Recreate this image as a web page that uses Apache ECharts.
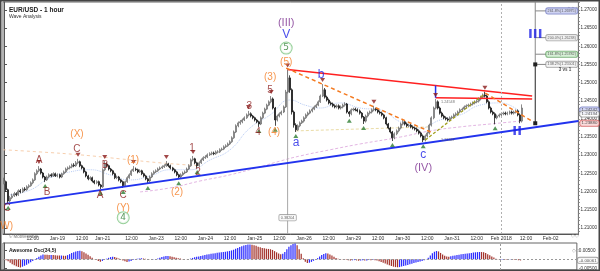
<!DOCTYPE html>
<html><head><meta charset="utf-8">
<script src="https://cdn.jsdelivr.net/npm/echarts@6/dist/echarts.min.js"></script>
<style>html,body{margin:0;padding:0;background:#fff}#c{width:600px;height:271px}</style>
</head><body><div id="c"></div>
<script>
// ---------------- DATA ----------------
const BAR_SLOTS = 280;   // hourly slots on the time axis (incl. empty future area)
const tickLabels = {14:'12:00',26:'Jan-19',38:'12:00',48:'Jan-21',62:'12:00',74:'Jan-23',86:'12:00',98:'Jan-24',110:'12:00',122:'Jan-25',134:'12:00',146:'Jan-26',158:'12:00',170:'Jan-29',182:'12:00',194:'Jan-30',206:'12:00',218:'Jan-31',230:'12:00',242:'Feb 2018',254:'12:00',266:'Feb-02'};
const priceTicks = [1.21,1.215,1.22,1.225,1.23,1.235,1.24,1.245,1.25,1.255,1.26,1.265,1.27];
const firstOpen = 1.2222;
const closes = [1.2227,1.2205,1.2174,1.2183,1.2188,1.2194,1.2191,1.2202,1.2199,1.2207,
1.2205,1.2213,1.2216,1.2224,1.2232,1.2249,1.2257,1.2262,1.2251,1.2240,
1.2232,1.2240,1.2246,1.2243,1.2249,1.2243,1.2246,1.2240,1.2249,1.2254,
1.2262,1.2265,1.2268,1.2273,1.2271,1.2279,1.2282,1.2271,1.2265,1.2254,
1.2243,1.2235,1.2238,1.2229,1.2224,1.2227,1.2218,1.2213,1.2260,1.2276,
1.2271,1.2262,1.2257,1.2249,1.2238,1.2240,1.2232,1.2227,1.2216,1.2227,
1.2238,1.2246,1.2257,1.2262,1.2260,1.2254,1.2257,1.2249,1.2243,1.2235,
1.2229,1.2240,1.2249,1.2254,1.2257,1.2262,1.2265,1.2268,1.2271,1.2276,
1.2271,1.2265,1.2260,1.2254,1.2246,1.2240,1.2246,1.2251,1.2254,1.2262,
1.2271,1.2287,1.2290,1.2279,1.2271,1.2279,1.2287,1.2293,1.2295,1.2301,
1.2304,1.2306,1.2304,1.2309,1.2309,1.2315,1.2317,1.2323,1.2326,1.2331,
1.2337,1.2348,1.2364,1.2381,1.2389,1.2392,1.2397,1.2403,1.2411,1.2414,
1.2408,1.2403,1.2397,1.2392,1.2386,1.2403,1.2416,1.2427,1.2438,1.2447,
1.2455,1.2430,1.2397,1.2408,1.2414,1.2419,1.2433,1.2474,1.2513,1.2480,
1.2419,1.2383,1.2370,1.2381,1.2389,1.2394,1.2403,1.2411,1.2416,1.2422,
1.2427,1.2433,1.2438,1.2447,1.2463,1.2480,1.2460,1.2452,1.2444,1.2441,
1.2436,1.2433,1.2436,1.2430,1.2433,1.2438,1.2441,1.2419,1.2414,1.2425,
1.2427,1.2425,1.2422,1.2416,1.2405,1.2394,1.2408,1.2416,1.2419,1.2425,
1.2427,1.2425,1.2419,1.2416,1.2411,1.2403,1.2386,1.2375,1.2364,1.2348,
1.2359,1.2367,1.2375,1.2386,1.2392,1.2386,1.2381,1.2383,1.2378,1.2375,
1.2372,1.2367,1.2361,1.2353,1.2342,1.2353,1.2361,1.2383,1.2403,1.2430,
1.2447,1.2430,1.2416,1.2408,1.2403,1.2400,1.2397,1.2403,1.2405,1.2411,
1.2414,1.2419,1.2425,1.2427,1.2433,1.2436,1.2438,1.2441,1.2444,1.2447,
1.2449,1.2455,1.2460,1.2466,1.2463,1.2447,1.2430,1.2419,1.2414,1.2403,
1.2408,1.2411,1.2414,1.2416,1.2414,1.2416,1.2419,1.2416,1.2419,1.2422,
1.2411,1.2394,1.2430];
const highs = [1.2238,1.2230,1.2208,1.2188,1.2194,1.2199,1.2198,1.2206,1.2207,1.2211,
1.2212,1.2217,1.2220,1.2228,1.2236,1.2253,1.2261,1.2270,1.2265,1.2254,
1.2243,1.2244,1.2250,1.2250,1.2253,1.2252,1.2250,1.2249,1.2252,1.2258,
1.2266,1.2269,1.2272,1.2277,1.2278,1.2284,1.2290,1.2285,1.2274,1.2268,
1.2257,1.2246,1.2242,1.2241,1.2232,1.2231,1.2230,1.2221,1.2264,1.2284,
1.2280,1.2274,1.2265,1.2260,1.2252,1.2244,1.2243,1.2235,1.2230,1.2230,
1.2242,1.2250,1.2261,1.2270,1.2266,1.2263,1.2261,1.2260,1.2252,1.2246,
1.2238,1.2244,1.2253,1.2258,1.2261,1.2266,1.2269,1.2272,1.2275,1.2284,
1.2279,1.2274,1.2268,1.2263,1.2257,1.2249,1.2250,1.2255,1.2258,1.2266,
1.2275,1.2291,1.2298,1.2293,1.2282,1.2283,1.2291,1.2297,1.2300,1.2305,
1.2308,1.2310,1.2310,1.2313,1.2314,1.2319,1.2321,1.2327,1.2330,1.2335,
1.2341,1.2352,1.2368,1.2385,1.2393,1.2397,1.2401,1.2407,1.2415,1.2422,
1.2418,1.2411,1.2406,1.2400,1.2395,1.2407,1.2420,1.2431,1.2442,1.2451,
1.2463,1.2459,1.2433,1.2412,1.2418,1.2423,1.2437,1.2480,1.2536,1.2520,
1.2484,1.2423,1.2388,1.2385,1.2393,1.2398,1.2407,1.2415,1.2420,1.2426,
1.2431,1.2437,1.2442,1.2451,1.2467,1.2496,1.2485,1.2464,1.2456,1.2448,
1.2445,1.2440,1.2440,1.2440,1.2437,1.2442,1.2446,1.2444,1.2422,1.2429,
1.2431,1.2431,1.2429,1.2426,1.2419,1.2408,1.2412,1.2420,1.2423,1.2429,
1.2436,1.2431,1.2429,1.2423,1.2420,1.2414,1.2406,1.2389,1.2378,1.2367,
1.2363,1.2371,1.2379,1.2390,1.2397,1.2396,1.2390,1.2387,1.2387,1.2382,
1.2379,1.2376,1.2371,1.2365,1.2357,1.2357,1.2365,1.2387,1.2407,1.2434,
1.2455,1.2451,1.2434,1.2420,1.2412,1.2407,1.2404,1.2407,1.2409,1.2415,
1.2418,1.2423,1.2429,1.2431,1.2437,1.2440,1.2442,1.2445,1.2448,1.2451,
1.2453,1.2459,1.2464,1.2470,1.2475,1.2467,1.2451,1.2434,1.2423,1.2418,
1.2412,1.2415,1.2418,1.2420,1.2420,1.2420,1.2423,1.2423,1.2423,1.2426,
1.2426,1.2415,1.2440];
const lows = [1.2220,1.2199,1.2166,1.2170,1.2179,1.2185,1.2187,1.2188,1.2195,1.2196,
1.2201,1.2202,1.2209,1.2213,1.2220,1.2229,1.2245,1.2253,1.2247,1.2236,
1.2226,1.2229,1.2237,1.2239,1.2240,1.2240,1.2239,1.2236,1.2237,1.2246,
1.2251,1.2258,1.2261,1.2264,1.2267,1.2268,1.2275,1.2267,1.2261,1.2250,
1.2239,1.2231,1.2231,1.2225,1.2220,1.2220,1.2214,1.2207,1.2210,1.2256,
1.2267,1.2258,1.2253,1.2245,1.2234,1.2234,1.2228,1.2223,1.2210,1.2213,
1.2224,1.2235,1.2243,1.2254,1.2256,1.2250,1.2251,1.2245,1.2239,1.2231,
1.2221,1.2226,1.2237,1.2246,1.2251,1.2254,1.2259,1.2262,1.2265,1.2268,
1.2267,1.2261,1.2256,1.2250,1.2242,1.2234,1.2237,1.2243,1.2248,1.2251,
1.2259,1.2268,1.2283,1.2275,1.2265,1.2268,1.2276,1.2284,1.2290,1.2292,
1.2298,1.2300,1.2300,1.2301,1.2305,1.2306,1.2312,1.2314,1.2320,1.2323,
1.2328,1.2334,1.2345,1.2361,1.2377,1.2384,1.2388,1.2394,1.2400,1.2407,
1.2404,1.2399,1.2393,1.2388,1.2378,1.2383,1.2400,1.2413,1.2424,1.2435,
1.2443,1.2426,1.2381,1.2393,1.2404,1.2410,1.2416,1.2430,1.2470,1.2472,
1.2412,1.2376,1.2364,1.2367,1.2377,1.2386,1.2390,1.2400,1.2407,1.2413,
1.2418,1.2424,1.2430,1.2435,1.2444,1.2460,1.2456,1.2448,1.2440,1.2437,
1.2432,1.2429,1.2429,1.2426,1.2426,1.2429,1.2434,1.2415,1.2406,1.2410,
1.2421,1.2421,1.2418,1.2412,1.2401,1.2386,1.2390,1.2404,1.2412,1.2415,
1.2421,1.2421,1.2415,1.2412,1.2407,1.2399,1.2382,1.2371,1.2360,1.2339,
1.2344,1.2355,1.2363,1.2371,1.2382,1.2382,1.2377,1.2377,1.2374,1.2371,
1.2368,1.2363,1.2357,1.2349,1.2336,1.2338,1.2349,1.2357,1.2379,1.2399,
1.2426,1.2426,1.2412,1.2404,1.2399,1.2396,1.2393,1.2394,1.2399,1.2402,
1.2407,1.2410,1.2416,1.2421,1.2424,1.2429,1.2432,1.2434,1.2437,1.2440,
1.2443,1.2445,1.2451,1.2456,1.2459,1.2443,1.2426,1.2415,1.2410,1.2385,
1.2399,1.2404,1.2407,1.2410,1.2410,1.2410,1.2412,1.2412,1.2412,1.2415,
1.2407,1.2388,1.2390];
const aoValues = [-0.00028,-0.00055,-0.0011,-0.00193,-0.00275,-0.0033,-0.00385,-0.00429,-0.00451,-0.00407,
-0.00358,-0.00303,-0.00237,-0.00165,-0.00088,-0.00017,0.00066,0.00138,0.00209,0.00264,
0.00253,0.00248,0.00237,0.00242,0.00231,0.0022,0.00215,0.00204,0.00209,0.00198,
0.00193,0.00231,0.00286,0.00347,0.00396,0.00435,0.00462,0.00473,0.0044,0.00385,
0.00319,0.00248,0.00165,0.00088,0.00022,-0.00044,-0.00099,-0.00132,-0.00088,-0.00028,
0.00033,0.00083,0.00121,0.00143,0.00127,0.00088,0.00044,-0.00011,-0.00066,-0.0011,
-0.00149,-0.00127,-0.00088,-0.00044,-0.00006,0.00028,0.0005,0.00055,0.00044,0.00028,
0.00011,-0.00011,-0.00028,-0.00017,0.00017,0.0005,0.00088,0.00121,0.00154,0.00176,
0.00182,0.00165,0.00143,0.00116,0.00088,0.00061,0.00039,0.00022,0.00011,0.00006,
0.00017,0.00039,0.00077,0.0011,0.00138,0.0016,0.00187,0.00215,0.00242,0.00264,
0.00286,0.00308,0.00325,0.00341,0.00358,0.00374,0.00391,0.00407,0.00424,0.0044,
0.00462,0.0049,0.00528,0.00578,0.00627,0.00677,0.00721,0.00759,0.00792,0.00814,
0.0082,0.00803,0.00776,0.00743,0.00699,0.0066,0.00627,0.00605,0.00583,0.00572,
0.00556,0.00517,0.00451,0.00385,0.00325,0.00286,0.00308,0.00407,0.0055,0.00688,
0.00781,0.00842,0.00875,0.00781,0.0055,0.00303,0.00055,-0.00138,-0.00209,-0.00187,
-0.00143,-0.00083,-0.00011,0.00066,0.00154,0.00237,0.00297,0.0033,0.00319,0.0027,
0.00209,0.00143,0.00077,0.00028,0.00002,-0.00017,-0.00011,-0.00028,-0.0005,-0.00066,
-0.00055,-0.00044,-0.00061,-0.00077,-0.00066,-0.0005,-0.00072,-0.00061,-0.00044,-0.00055,
-0.00044,-0.0005,-0.00072,-0.0011,-0.00154,-0.00193,-0.00237,-0.00286,-0.0033,-0.00374,
-0.00407,-0.00429,-0.0044,-0.00429,-0.00402,-0.00374,-0.00341,-0.00308,-0.00275,-0.00242,
-0.00209,-0.00176,-0.00149,-0.00121,-0.00094,-0.00055,-0.00011,0.00083,0.00209,0.0033,
0.00418,0.00457,0.00435,0.00352,0.00264,0.00193,0.00154,0.00143,0.00165,0.00193,
0.00215,0.00237,0.00253,0.00275,0.00292,0.00308,0.00325,0.00341,0.00352,0.00369,
0.00385,0.00396,0.00402,0.00401,0.00391,0.00347,0.00286,0.0022,0.00154,0.00094,
0.00033,-0.00011,-0.00033,-0.00028,-0.00022,-0.00028,-0.00022,-0.00017,-0.00022,-0.00028,
-0.00039,-0.0005,-0.00061];
const aoTicks = [-0.005, 0.005];
// moving averages read at sample points: [bar index, price]
const maFast = [[2.9,1.2191],[12.7,1.2204],[22.4,1.2238],[32.1,1.2254],[41.9,1.2260],[51.6,1.2246],[61.3,1.2232],[71.1,1.2243],[80.8,1.2260],[90.5,1.2260],[100.3,1.2287],[110,1.2315],[119.7,1.2375],[129.5,1.2411],[139.2,1.2452],[146.5,1.2438],[153.8,1.2430],[163.6,1.2444],[173.3,1.2430],[183,1.2425],[192.8,1.2392],[202.5,1.2375],[212.2,1.2397],[222,1.2411],[231.7,1.2438],[241.5,1.2444],[251.2,1.2419]];
const maSlow = [[66.2,1.2199],[80.8,1.2210],[95.4,1.2229],[110,1.2246],[124.6,1.2268],[134.4,1.2284],[144.1,1.2298],[158.7,1.2315],[173.3,1.2331],[192.8,1.2350],[207.4,1.2367],[222,1.2378],[236.6,1.2386],[251.2,1.2394]];
const maLong = [[-0.5,1.2315],[17.5,1.2309],[37,1.2301],[56.5,1.2290],[76,1.2279],[95.4,1.2271]];
// drawn trend lines: [bar index, price] endpoints
const blueTrend = [[0.5,1.2166],[279.5,1.2394]];
const redTrendUpper = [[138,1.2536],[257,1.2463]];
const redTrendLower = [[210,1.2458],[257,1.2455]];
const blueGap = [[210,1.2492],[210,1.2458]];
const orangeChannel1 = [[137.3,1.2540],[208.8,1.2361]];
const orangeChannel2 = [[234.2,1.2471],[257.5,1.2392]];
const oliveTrend = [[205,1.2342],[233.2,1.2466]];
const paleTrend = [[142,1.2367],[207,1.2378]];
// pivot markers (bar indices)
const pivotHighs = [17,36,49,63,79,92,119,130,138,155,180,210,234];
const pivotLows = [2,20,47,58,70,85,94,124,132,142,168,175,189,204,239];
// wave labels: [text, bar index, price, kind]
const waveLabels = [
 ['(III)',137.3,1.2664,'purple'],['V',137.3,1.2631,'blue'],['5',137.3,1.2595,'circle'],['(5)',137.3,1.2557,'orange'],
 ['b',154.3,1.2521,'blue'],['(3)',129.5,1.2515,'orange'],['5',129.5,1.2479,'red'],['3',119.3,1.2435,'red'],
 ['4',123.6,1.2364,'red'],['(4)',131.4,1.2364,'orange'],['a',142.1,1.2334,'blue'],['c',204,1.2301,'blue'],
 ['(IV)',204,1.2265,'purple'],['II',249.7,1.2364,'roman'],['III',258.5,1.2631,'roman'],
 ['(X)',35.5,1.2359,'orange'],['C',35.5,1.2317,'red'],['A',17,1.2287,'red'],['B',21,1.2199,'red'],
 ['B',49.2,1.2273,'red'],['A',46.8,1.2191,'red'],['(1)',62.8,1.2287,'orange'],['C',58,1.2191,'red'],
 ['1',91.5,1.2320,'red'],['2',94.4,1.2254,'red'],['(2)',84.2,1.2199,'orange'],['(Y)',58,1.2155,'orange'],
 ['4',58,1.2128,'circle'],['C',1.5,1.2155,'red'],['(W)',0.5,1.2103,'orange']
];
const fibRatios = ['261.8%','200.0%','161.8%','138.2%'];
const fibPrices = [1.26975,1.26238,1.25782,1.25501];
const measureIndex = 138, measureTop = 1.2536, measureText = '0.38204';
const projectionIndex = 258.5, projectionEnd = 1.2388;
const axisPriceTags = [['1.24242',1.24242],['1.24134',1.24134],['1.23880',1.2388]];
const pointNotes = [['1.24548',216,1.2447],['1.23347',216,1.2341]];
const feb1Index = 242;

// ---------------- CHART ----------------
const PMIN = 1.2083, PMAX = 1.2722, AOMIN = -0.0059, AOMAX = 0.0090;
const categories = Array.from({length: BAR_SLOTS}, (_, i) => String(i));
const candles = closes.map((c, i) => [i ? closes[i-1] : firstOpen, c, lows[i], highs[i]]);
const minorTicks = [];
for (let v = 1.209; v <= 1.2721; v += 0.001) minorTicks.push(+v.toFixed(3));

const COL = {red:'#8b1c1c', orange:'#f47a20', purple:'#7b2d8e', blue:'#1e22e6', green:'#2e7d32'};
const labelStyle = k => {
  if (k === 'circle') return {color:COL.green, fontSize:9, fontFamily:'DejaVu Sans', borderColor:'#7cc47f', borderWidth:1, borderRadius:7, width:11, height:11, lineHeight:11, align:'center', backgroundColor:'#fff'};
  if (k === 'roman') return {color:COL.blue, fontSize:13, fontFamily:'DejaVu Sans', fontWeight:'bold'};
  if (k === 'blue') return {color:COL.blue, fontSize:12, fontFamily:'Liberation Sans'};
  if (k === 'purple') return {color:COL.purple, fontSize:11, fontFamily:'Liberation Sans'};
  if (k === 'orange') return {color:COL.orange, fontSize:10, fontFamily:'Liberation Sans'};
  return {color:COL.red, fontSize:10, fontFamily:'Liberation Sans'};
};
const lineSeries = (data, color, width, type, extra) => Object.assign({
  type:'line', xAxisIndex:1, yAxisIndex:0, data, symbol:'none', silent:true, animation:false,
  lineStyle:{color, width, type}, z:4
}, extra || {});

const fibFill = ['#c9cdf0','#f3f3f3','#cdeccd','#f3f3f3'];
const fibBorder = ['#6f78c0','#999','#5a9e5a','#999'];
const tagFill = ['#c9cdf0','#ffffff','#f8d2d2'];
const tagBorder = ['#6f78c0','#888','#d05050'];

const tickFn = idx => tickLabels[idx] !== undefined;
const option = {
  animation:false,
  backgroundColor:'#fff',
  title:[
    {text:'EUR/USD - 1 hour', left:4, top:2, textStyle:{fontSize:6.5, fontWeight:'bold', color:'#222', fontFamily:'Liberation Sans'}},
    {text:'Wave Analysis', left:4, top:9.5, textStyle:{fontSize:5, fontWeight:'normal', color:'#333', fontFamily:'Liberation Sans'}},
    {text:'Awesome Osc(34,5)', left:4, top:243.5, textStyle:{fontSize:5, fontWeight:'bold', color:'#222', fontFamily:'Liberation Sans'}},
    {text:'© MotiveWave', left:4, top:229, textStyle:{fontSize:4.5, fontWeight:'normal', color:'#777', fontFamily:'Liberation Sans'}},
    {text:'◇◇◇', left:562, top:1, textStyle:{fontSize:5, color:'#999', fontWeight:'normal'}},
    {text:'◇◇', left:566, top:228, textStyle:{fontSize:5, color:'#999', fontWeight:'normal'}},
    {text:'◇□', left:567, top:243, textStyle:{fontSize:5, color:'#999', fontWeight:'normal'}}
  ],
  grid:[
    {left:3, right:21, top:2, height:232, show:true, borderColor:'#666', borderWidth:1},
    {left:3, right:21, top:243, height:27, show:true, borderColor:'#666', borderWidth:1}
  ],
  xAxis:[
    {type:'category', gridIndex:0, data:categories, boundaryGap:true,
     axisLine:{lineStyle:{color:'#555'}},
     axisTick:{interval:tickFn, alignWithLabel:true, length:2, lineStyle:{color:'#555'}},
     axisLabel:{interval:tickFn, formatter:(v, i) => tickLabels[i] || '', fontSize:5, color:'#333', margin:2, fontFamily:'Liberation Sans'},
     splitLine:{show:false}},
    {type:'value', gridIndex:0, min:-0.5, max:BAR_SLOTS-0.5, show:false},
    {type:'category', gridIndex:1, data:categories, boundaryGap:true, show:false},
    {type:'value', gridIndex:1, min:-0.5, max:BAR_SLOTS-0.5, show:false}
  ],
  yAxis:[
    {type:'value', gridIndex:0, position:'right', min:PMIN, max:PMAX, splitLine:{show:false},
     axisLine:{show:true, lineStyle:{color:'#555'}},
     axisTick:{show:true, customValues:priceTicks, length:3, lineStyle:{color:'#555'}},
     axisLabel:{customValues:priceTicks, formatter:v => v.toFixed(5), fontSize:4.6, color:'#333', margin:2, fontFamily:'Liberation Sans'}},
    {type:'value', gridIndex:0, position:'right', min:PMIN, max:PMAX, splitLine:{show:false},
     axisLine:{show:false}, axisTick:{show:true, customValues:minorTicks, length:1.5, lineStyle:{color:'#888'}},
     axisLabel:{show:false}},
    {type:'value', gridIndex:1, position:'right', min:AOMIN, max:AOMAX, splitLine:{show:false},
     axisLine:{show:true, lineStyle:{color:'#555'}},
     axisTick:{show:true, customValues:aoTicks, length:3},
     axisLabel:{customValues:aoTicks, formatter:v => v.toFixed(5), fontSize:4.6, color:'#333', margin:2, fontFamily:'Liberation Sans'}}
  ],
  series:[
    lineSeries(maLong, '#f7cfae', 1, [3,3], {smooth:true, z:1}),
    lineSeries(maSlow, '#e3b6e3', 1, [3,2], {smooth:true, z:1}),
    lineSeries(maFast, '#b9cdf5', 1, [1,1], {smooth:true, z:1}),
    lineSeries(paleTrend, '#eadca6', 1, [3,2], {z:1}),
    {type:'candlestick', xAxisIndex:0, yAxisIndex:0, data:candles, barWidth:1.5, silent:true, z:3,
     itemStyle:{color:'#dcdcdc', color0:'#1a1a1a', borderColor:'#6e6e6e', borderColor0:'#1a1a1a', borderWidth:0.8},
     markLine:{silent:true, symbol:'none', label:{show:false}, lineStyle:{color:'#b0b0b0', type:[2,2], width:1},
       data:[{xAxis:feb1Index}]}},
    lineSeries(blueTrend, '#2233ee', 2, 'solid', {z:5}),
    lineSeries(redTrendUpper, '#ff2020', 1.5, 'solid'),
    lineSeries(redTrendLower, '#ff2020', 1.5, 'solid'),
    lineSeries(blueGap, '#2233ee', 1.5, 'solid'),
    lineSeries(orangeChannel1, '#f47a20', 1.5, [4,3]),
    lineSeries(orangeChannel2, '#f47a20', 1.5, [4,3]),
    lineSeries(oliveTrend, '#a3a020', 1.3, [3,2]),
    lineSeries([[measureIndex, measureTop],[measureIndex, PMIN]], '#a8a8a8', 1, 'solid', {z:2}),
    lineSeries([[projectionIndex, PMAX],[projectionIndex, fibPrices[3]]], '#888', 1, 'solid'),
    lineSeries([[projectionIndex, fibPrices[3]],[projectionIndex, projectionEnd]], '#222', 1, 'solid',
      {symbol:['none','triangle'], symbolSize:[4,4], symbolRotate:180, showSymbol:true, itemStyle:{color:'#222'}}),
  ].concat(fibPrices.map(p => lineSeries([[projectionIndex, p],[264.5, p]], '#888', 1, 'solid'))).concat([
    {type:'scatter', xAxisIndex:0, yAxisIndex:0, silent:true, z:6, symbol:'triangle', symbolSize:[5,4], symbolRotate:180,
     symbolOffset:[0,-4], itemStyle:{color:COL.red}, data:pivotHighs.map(i => [i, highs[i]])},
    {type:'scatter', xAxisIndex:0, yAxisIndex:0, silent:true, z:6, symbol:'triangle', symbolSize:[5,4],
     symbolOffset:[0,4], itemStyle:{color:COL.green}, data:pivotLows.map(i => [i, lows[i]])},
    {type:'scatter', xAxisIndex:1, yAxisIndex:0, silent:true, z:8, clip:false, symbolSize:0,
     data:waveLabels.map(w => ({value:[w[1], w[2]], label:Object.assign({show:true, position:'inside', formatter:w[0]}, labelStyle(w[3]))}))},
    {type:'scatter', xAxisIndex:1, yAxisIndex:0, silent:true, z:8, clip:false, symbolSize:0,
     data:fibPrices.map((p, k) => ({value:[271.4, p], label:{show:true, position:'inside', formatter:fibRatios[k] + '(' + p.toFixed(5) + ')',
       fontSize:3.7, color:'#333', backgroundColor:fibFill[k], borderColor:fibBorder[k], borderWidth:0.8, borderRadius:2, padding:[1,1.5,0.5,1.5], fontFamily:'Liberation Sans'}}))
       .concat([{value:[273, 1.2534], label:{show:true, position:'inside', formatter:'3 vs 1', fontSize:4.5, fontWeight:'bold', color:'#222', fontFamily:'Liberation Sans'}},
                {value:[measureIndex, 1.2128], label:{show:true, position:'inside', formatter:measureText, fontSize:3.8, color:'#333', backgroundColor:'#fff', borderColor:'#999', borderWidth:0.8, borderRadius:1, padding:[1,1.5,0.5,1.5]}}])
       .concat(pointNotes.map(n => ({value:[n[1], n[2]], label:{show:true, position:'inside', formatter:n[0], fontSize:3.8, color:'#555'}})))
       .concat(axisPriceTags.map((t, k) => ({value:[284.9, t[1]], label:{show:true, position:'inside', formatter:t[0], fontSize:4.4, color:'#222',
         backgroundColor:tagFill[k], borderColor:tagBorder[k], borderWidth:0.8, borderRadius:2, padding:[1,1.5,0.5,1.5], fontFamily:'Liberation Sans'}})))},
    {type:'bar', xAxisIndex:2, yAxisIndex:2, data:aoValues, barWidth:'60%', silent:true,
     itemStyle:{color:p => (p.dataIndex === 0 || aoValues[p.dataIndex] >= aoValues[p.dataIndex-1]) ? '#2b2bff' : '#a3332c'},
     markLine:{silent:true, symbol:'none', label:{show:false}, lineStyle:{color:'#999', type:[2,2], width:1},
       data:[{xAxis:feb1Index}, {yAxis:aoValues[aoValues.length-1]}]}},
    {type:'scatter', xAxisIndex:3, yAxisIndex:2, silent:true, clip:false, symbolSize:0,
     data:[{value:[284.9, aoValues[aoValues.length-1]], label:{show:true, position:'inside', formatter:aoValues[aoValues.length-1].toFixed(5),
       fontSize:4.4, color:'#222', backgroundColor:'#fff', borderColor:'#888', borderWidth:0.8, borderRadius:2, padding:[1,1.5,0.5,1.5]}}]}
  ]),
  graphic:[{type:'rect', shape:{x:0.75, y:0.75, width:598.5, height:269.5}, style:{fill:'none', stroke:'#444', lineWidth:1.5}, silent:true}]
};
const chart = echarts.init(document.getElementById('c'), null, {renderer:'canvas', width:600, height:271});
chart.setOption(option);
</script></body></html>
